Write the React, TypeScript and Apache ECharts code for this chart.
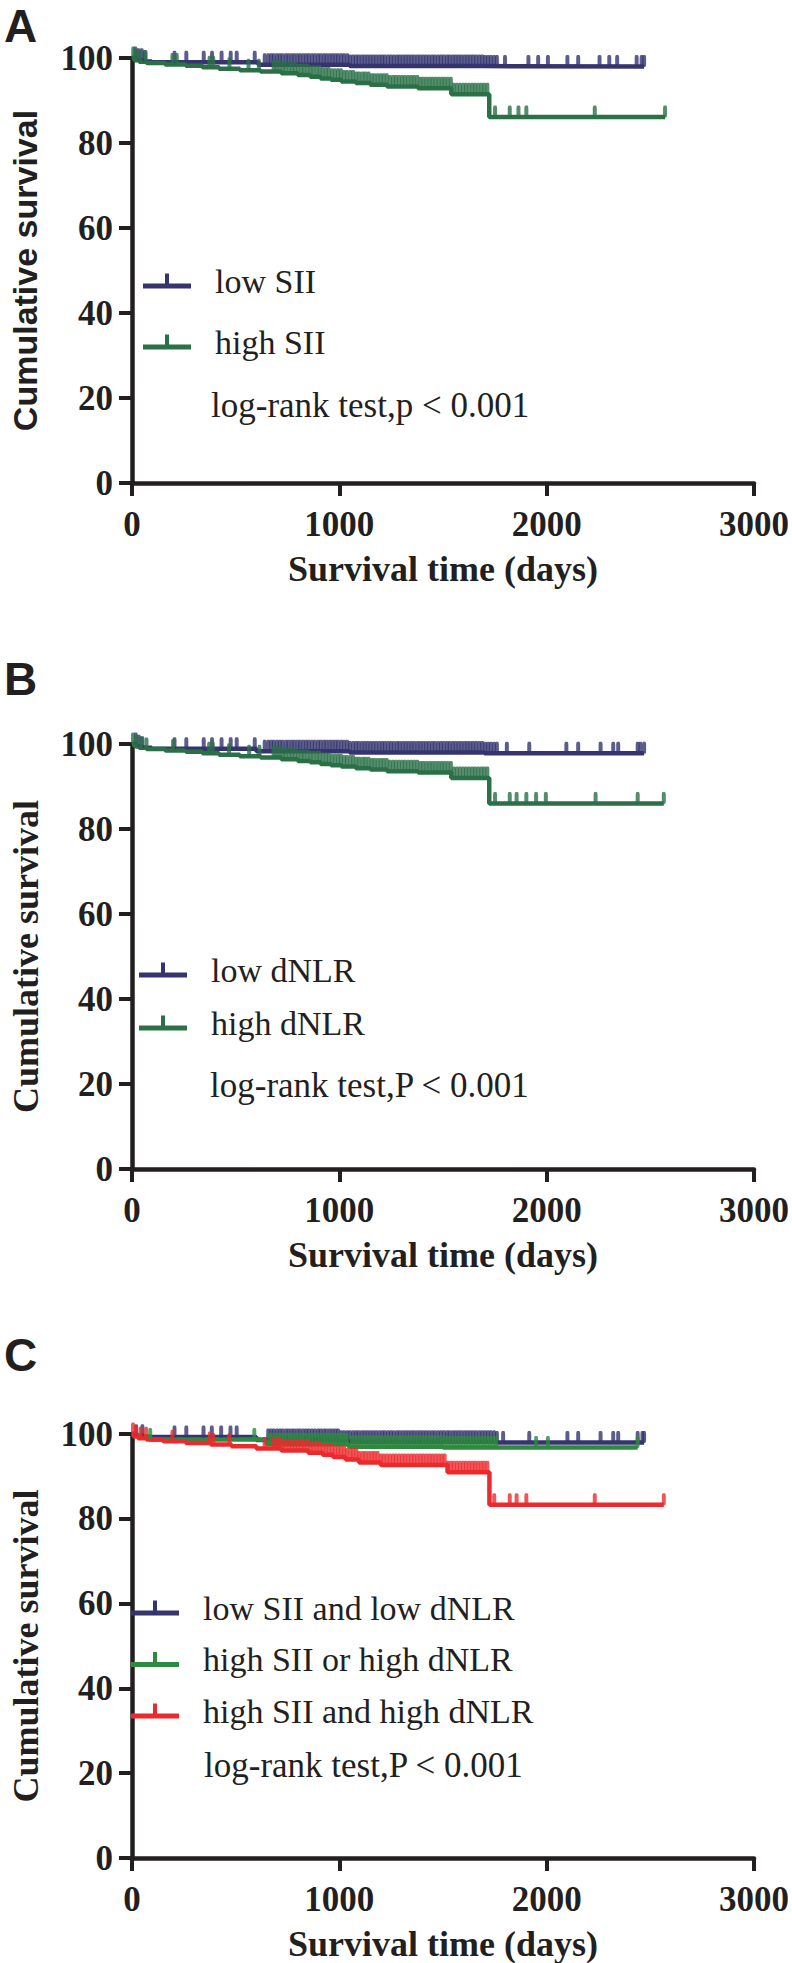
import React, { useEffect, useRef } from "react";
import * as echarts from "echarts";

// ---------- colours ----------
const INK = "#231f20";
const NAVY = "#35346f";
const DARK_GREEN = "#2b7047";
const GREEN = "#2e8a3f";
const RED = "#ec2a2d";

// ---------- axes ----------
const X_MIN = 0;
const X_MAX = 3000;
const X_STEP = 1000;
const Y_MIN = 0;
const Y_MAX = 100;
const Y_STEP = 20;
const X_TITLE = "Survival time (days)";
const Y_TITLE = "Cumulative survival";
const PANEL_LABELS = ["A", "B", "C"];

// ---------- Panel A : SII ----------
const A_NAMES = ["low SII", "high SII"];
const A_LOW_STEPS = [[0, 100], [18, 99.6], [50, 99.2], [95, 99.0], [610, 98.4], [1050, 98.1], [1700, 98.0], [2470, 98.0]];
const A_HIGH_STEPS = [[0, 100], [12, 99.5], [35, 99.1], [70, 98.8], [160, 98.5], [260, 98.2], [340, 97.8], [420, 97.5], [520, 97.1], [620, 96.8], [720, 96.4], [800, 96.0], [860, 95.6], [910, 95.2], [960, 94.9], [1010, 94.5], [1080, 94.1], [1150, 93.7], [1230, 93.3], [1380, 92.9], [1540, 91.5], [1723, 86.1], [2571, 86.1]];
const A_LOW_CENSOR_EDGE = [16, 31, 47, 62, 205, 262, 346, 386, 432, 476, 505, 592, 640, 1799, 1912, 1959, 2006, 2100, 2152, 2255, 2302, 2340, 2434, 2458, 2470];
const A_HIGH_CENSOR_EDGE = [6, 21, 40, 66, 195, 216, 374, 392, 470, 562, 612, 1751, 1822, 1864, 1902, 2232, 2571];
const A_LOG_RANK = "log-rank test,p < 0.001";

// ---------- Panel B : dNLR ----------
const B_NAMES = ["low dNLR", "high dNLR"];
const B_LOW_STEPS = [[0, 100], [20, 99.5], [50, 99.1], [95, 98.9], [600, 98.3], [1050, 98.0], [1700, 97.8], [2470, 97.8]];
const B_HIGH_STEPS = [[0, 100], [12, 99.5], [35, 99.1], [70, 98.8], [160, 98.5], [260, 98.2], [340, 97.8], [420, 97.5], [520, 97.1], [620, 96.8], [720, 96.4], [800, 96.0], [860, 95.7], [910, 95.3], [960, 95.0], [1010, 94.7], [1080, 94.3], [1150, 94.0], [1230, 93.6], [1380, 93.3], [1540, 92.0], [1723, 86.0], [2565, 86.0]];
const B_LOW_CENSOR_EDGE = [18, 33, 50, 205, 262, 346, 386, 432, 476, 505, 592, 640, 1808, 1916, 2095, 2152, 2260, 2321, 2345, 2439, 2452, 2470];
const B_HIGH_CENSOR_EDGE = [5, 22, 44, 70, 198, 372, 390, 468, 565, 615, 1751, 1822, 1855, 1902, 1949, 1996, 2236, 2439, 2565];
const B_LOG_RANK = "log-rank test,P < 0.001";

// ---------- Panel C : combined ----------
const C_NAMES = ["low SII and low dNLR", "high SII or high dNLR", "high SII and high dNLR"];
const C_LOW_STEPS = [[0, 100], [20, 99.6], [55, 99.3], [600, 98.6], [1000, 98.2], [1760, 98.0], [2470, 98.0]];
const C_MID_STEPS = [[0, 100], [25, 99.4], [85, 98.7], [650, 97.6], [1045, 97.0], [1500, 96.8], [2439, 96.8]];
const C_HIGH_STEPS = [[0, 100], [8, 99.4], [30, 99.0], [70, 98.7], [150, 98.3], [260, 97.9], [380, 97.5], [480, 97.1], [600, 96.6], [720, 96.1], [850, 95.6], [920, 95.1], [970, 94.6], [1030, 94.0], [1095, 93.3], [1200, 92.7], [1522, 91.0], [1724, 83.3], [2565, 83.3]];
const C_LOW_CENSOR_EDGE = [20, 50, 205, 262, 345, 385, 430, 475, 505, 1790, 1916, 2100, 2152, 2260, 2321, 2345, 2439, 2462, 2470];
const C_MID_CENSOR_EDGE = [88, 590, 1949, 2006, 2439];
const C_HIGH_CENSOR_EDGE = [5, 20, 42, 68, 195, 375, 392, 470, 640, 1747, 1822, 1855, 1902, 2232, 2565];
const C_LOG_RANK = "log-rank test,P < 0.001";

// ---------- dense censoring (bands) ----------
const LOW_CENSOR_BAND = [657, 671, 684, 699, 713, 726, 742, 755, 770, 783, 798, 811, 826, 840, 853, 868, 882, 897, 910, 925, 938, 953, 967, 981, 994, 1009, 1023, 1038, 1051, 1066, 1080, 1093, 1108, 1122, 1136, 1150, 1164, 1178, 1193, 1207, 1220, 1235, 1249, 1263, 1278, 1291, 1306, 1320, 1334, 1348, 1362, 1377, 1391, 1405, 1419, 1433, 1448, 1461, 1476, 1490, 1504, 1519, 1532, 1547, 1561, 1575, 1589, 1604, 1618, 1632, 1646, 1660, 1675, 1689, 1703, 1717, 1731, 1746, 1760];
const HIGH_CENSOR_BAND = [683, 697, 712, 728, 741, 757, 772, 786, 801, 817, 830, 846, 861, 875, 891, 905, 920, 935, 949, 964, 979, 994, 1008, 1023, 1037, 1053, 1067, 1082, 1096, 1112, 1126, 1141, 1156, 1170, 1185, 1200, 1214, 1229, 1244, 1259, 1273, 1288, 1303, 1317, 1332, 1347, 1361, 1376, 1391, 1405, 1420, 1435, 1449, 1464, 1479, 1494, 1508, 1523, 1538, 1552, 1567, 1582, 1597, 1611, 1626, 1641, 1655, 1670, 1685, 1699, 1714];
const MID_CENSOR_BAND = [662, 676, 690, 705, 719, 733, 748, 762, 777, 791, 805, 820, 834, 849, 863, 877, 892, 906, 921, 935, 949, 964, 978, 993, 1007, 1021, 1036, 1060, 1075, 1089, 1104, 1118, 1133, 1147, 1162, 1176, 1191, 1205, 1220, 1234, 1249, 1263, 1278, 1292, 1307, 1321, 1336, 1350, 1365, 1379, 1394, 1408, 1423, 1437, 1452, 1466, 1481, 1495, 1510, 1524, 1539, 1553, 1568, 1582, 1597, 1611, 1626, 1640, 1655, 1669, 1684, 1698, 1713, 1727, 1742, 1756];

// ---------- layout ----------
const W = 792;
const H = 1963;
const GRID_LEFT = 121;
const GRID_WIDTH = 637;
const GRID_HEIGHT = 425;
const GRID_TOPS = [58, 744, 1434];
const LABEL_TOPS = [3, 656, 1332];

const LEGEND_ICON = "path://M0,10L48,10L48,15L0,15Z M22,0L26,0L26,10L22,10Z";

function survivalAt(steps: number[][], t: number): number {
  let s = steps[0][1];
  for (const [time, val] of steps) {
    if (time <= t) s = val;
    else break;
  }
  return s;
}

function kmSeries(name: string, idx: number, steps: number[][], censor: number[], color: string) {
  return [
    {
      type: "line",
      name,
      xAxisIndex: idx,
      yAxisIndex: idx,
      data: steps,
      step: "end",
      symbol: "none",
      showSymbol: false,
      clip: false,
      lineStyle: { color, width: 4.5 },
      itemStyle: { color },
      z: 3,
    },
    {
      type: "scatter",
      name,
      xAxisIndex: idx,
      yAxisIndex: idx,
      data: censor.map((t) => [t, survivalAt(steps, t)]),
      symbol: "roundRect",
      symbolSize: [4, 12],
      symbolOffset: [0, -5.5],
      clip: false,
      itemStyle: { color },
      z: 3,
    },
  ];
}

export default function App() {
  const ref = useRef<HTMLDivElement>(null);

  useEffect(() => {
    if (!ref.current) return;
    const chart = echarts.init(ref.current, null, { renderer: "svg" });

    const axisFont = "Liberation Serif";
    const grids = GRID_TOPS.map((top) => ({ left: GRID_LEFT, top, width: GRID_WIDTH, height: GRID_HEIGHT }));

    const xAxes = GRID_TOPS.map((_, i) => ({
      type: "value",
      gridIndex: i,
      min: X_MIN,
      max: X_MAX,
      interval: X_STEP,
      name: X_TITLE,
      nameLocation: "middle",
      nameGap: 68,
      nameTextStyle: { fontFamily: axisFont, fontWeight: "bold", fontSize: 36, color: INK },
      axisLine: { onZero: false, lineStyle: { color: INK, width: 4.5 } },
      axisTick: { show: true, length: 13, lineStyle: { color: INK, width: 4 } },
      splitLine: { show: false },
      axisLabel: {
        fontFamily: axisFont,
        fontWeight: "bold",
        fontSize: 35,
        color: INK,
        margin: 24,
        formatter: (v: number) => String(v),
      },
    }));

    const yAxes = GRID_TOPS.map((_, i) => ({
      type: "value",
      gridIndex: i,
      min: Y_MIN,
      max: Y_MAX,
      interval: Y_STEP,
      name: Y_TITLE,
      nameLocation: "middle",
      nameGap: i === 0 ? 90 : 88,
      nameTextStyle:
        i === 0
          ? { fontFamily: "Liberation Sans", fontWeight: "bold", fontSize: 34, color: INK }
          : { fontFamily: axisFont, fontWeight: "bold", fontSize: 36, color: INK },
      axisLine: { onZero: false, lineStyle: { color: INK, width: 4.5 } },
      axisTick: { show: true, length: 13, lineStyle: { color: INK, width: 4 } },
      splitLine: { show: false },
      axisLabel: {
        fontFamily: axisFont,
        fontWeight: "bold",
        fontSize: 35,
        color: INK,
        margin: 19,
        formatter: (v: number) => String(v),
      },
    }));

    const series = [
      ...kmSeries(A_NAMES[0], 0, A_LOW_STEPS, [...A_LOW_CENSOR_EDGE, ...LOW_CENSOR_BAND], NAVY),
      ...kmSeries(A_NAMES[1], 0, A_HIGH_STEPS, [...A_HIGH_CENSOR_EDGE, ...HIGH_CENSOR_BAND], DARK_GREEN),
      ...kmSeries(B_NAMES[0], 1, B_LOW_STEPS, [...B_LOW_CENSOR_EDGE, ...LOW_CENSOR_BAND], NAVY),
      ...kmSeries(B_NAMES[1], 1, B_HIGH_STEPS, [...B_HIGH_CENSOR_EDGE, ...HIGH_CENSOR_BAND], DARK_GREEN),
      ...kmSeries(C_NAMES[0], 2, C_LOW_STEPS, [...C_LOW_CENSOR_EDGE, ...LOW_CENSOR_BAND], NAVY),
      ...kmSeries(C_NAMES[1], 2, C_MID_STEPS, [...C_MID_CENSOR_EDGE, ...MID_CENSOR_BAND], GREEN),
      ...kmSeries(C_NAMES[2], 2, C_HIGH_STEPS, [...C_HIGH_CENSOR_EDGE, ...HIGH_CENSOR_BAND], RED),
    ];

    const legendText = { fontFamily: axisFont, fontSize: 34, color: INK, padding: [0, 0, 8, 19] };
    const legendBase = {
      orient: "vertical",
      itemWidth: 48,
      itemHeight: 15,
      padding: 0,
      selectedMode: false,
      textStyle: legendText,
    };
    const legends = [
      { ...legendBase, left: 143, top: 264, itemGap: 27, data: A_NAMES.map((name) => ({ name, icon: LEGEND_ICON })) },
      { ...legendBase, left: 139, top: 953, itemGap: 19, data: B_NAMES.map((name) => ({ name, icon: LEGEND_ICON })) },
      { ...legendBase, left: 131, top: 1591, itemGap: 17.5, data: C_NAMES.map((name) => ({ name, icon: LEGEND_ICON })) },
    ];

    const logRank = [
      { text: A_LOG_RANK, x: 211, y: 405 },
      { text: B_LOG_RANK, x: 210, y: 1085 },
      { text: C_LOG_RANK, x: 204, y: 1765 },
    ].map((g) => ({
      type: "text",
      x: g.x,
      y: g.y,
      style: { text: g.text, fontFamily: axisFont, fontSize: 35, fill: INK, align: "left", verticalAlign: "middle" },
    }));

    const titles = PANEL_LABELS.map((t, i) => ({
      text: t,
      left: 4,
      top: LABEL_TOPS[i],
      padding: 0,
      textStyle: { fontFamily: "Liberation Sans", fontWeight: "bold", fontSize: 46, color: INK },
    }));

    chart.setOption({
      animation: false,
      backgroundColor: "#ffffff",
      title: titles,
      grid: grids,
      xAxis: xAxes,
      yAxis: yAxes,
      legend: legends,
      graphic: logRank,
      series,
    });

    return () => chart.dispose();
  }, []);

  return <div ref={ref} style={{ position: "absolute", left: 0, top: 0, width: W, height: H }} />;
}
